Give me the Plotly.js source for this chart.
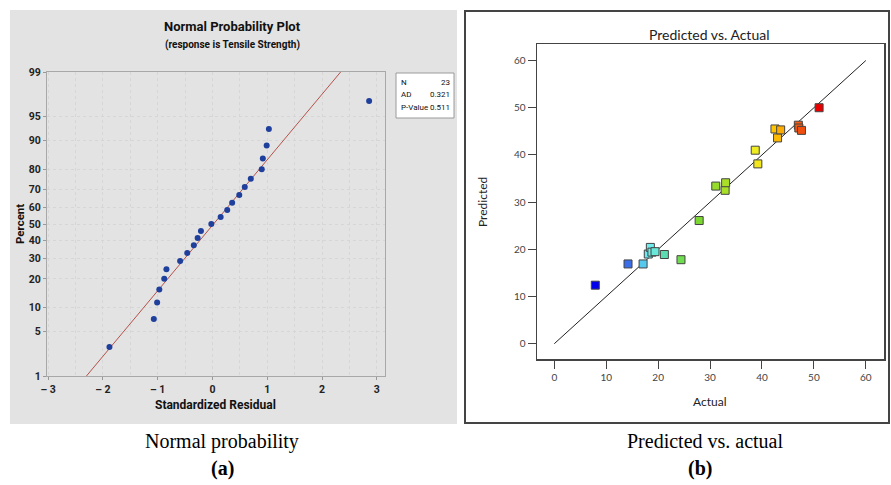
<!DOCTYPE html>
<html>
<head>
<meta charset="utf-8">
<script src="https://cdn.plot.ly/plotly-3.0.1.min.js"></script>
<style>html,body{margin:0;padding:0;background:#fff;}#chart{width:891px;height:485px;}</style>
</head>
<body>
<div id="chart"></div>
<script>
// ---- Data: (a) normal probability plot ----
const residuals = [-1.88,-1.07,-1.01,-0.97,-0.88,-0.84,-0.59,-0.46,-0.34,-0.27,-0.21,-0.02,0.15,0.27,0.36,0.49,0.59,0.70,0.90,0.92,0.99,1.03,2.86];
const percents  = [3.0,7.3,11.5,15.8,20.1,24.4,28.6,32.9,37.2,41.5,45.7,50.0,54.3,58.5,62.8,67.1,71.4,75.6,79.9,84.2,88.5,92.7,97.0];
const fitResidual = [-2.30, 2.34];
const fitPercent  = [1, 99];
const percentTicks = [1,5,10,20,30,40,50,60,70,80,90,95,99];
const residualTicks = [-3,-2,-1,0,1,2,3];
const statLabels = ["N","AD","P-Value"];
const statValues = ["23","0.321","0.511"];

// ---- Data: (b) predicted vs actual ----
const actual    = [7.9,14.2,17.1,18.1,18.5,18.8,19.4,21.2,24.4,27.9,31.1,32.9,33.0,38.7,39.2,42.5,43.0,43.6,47.0,47.1,47.6,51.0];
const predicted = [12.4,16.9,16.9,19.0,20.4,19.4,19.5,18.9,17.8,26.1,33.4,32.5,34.1,41.0,38.1,45.5,43.6,45.3,46.3,45.7,45.2,50.0];
const refLine = [0, 60];
const pvaTicks = [0,10,20,30,40,50,60];

// inverse standard normal CDF (Acklam) - maps percent to probability scale
function probit(p){
  const a=[-3.969683028665376e+01,2.209460984245205e+02,-2.759285104469687e+02,1.383577518672690e+02,-3.066479806614716e+01,2.506628277459239e+00];
  const b=[-5.447609879822406e+01,1.615858368580409e+02,-1.556989798598866e+02,6.680131188771972e+01,-1.328068155288572e+01];
  const c=[-7.784894002430293e-03,-3.223964580411365e-01,-2.400758277161838e+00,-2.549732539343734e+00,4.374664141464968e+00,2.938163982698783e+00];
  const d=[7.784695709041462e-03,3.224671290700398e-01,2.445134137142996e+00,3.754408661907416e+00];
  const pl=0.02425, ph=1-pl; let q,r;
  if(p<pl){q=Math.sqrt(-2*Math.log(p));return (((((c[0]*q+c[1])*q+c[2])*q+c[3])*q+c[4])*q+c[5])/((((d[0]*q+d[1])*q+d[2])*q+d[3])*q+1);}
  if(p<=ph){q=p-0.5;r=q*q;return (((((a[0]*r+a[1])*r+a[2])*r+a[3])*r+a[4])*r+a[5])*q/(((((b[0]*r+b[1])*r+b[2])*r+b[3])*r+b[4])*r+1);}
  q=Math.sqrt(-2*Math.log(1-p));return -(((((c[0]*q+c[1])*q+c[2])*q+c[3])*q+c[4])*q+c[5])/((((d[0]*q+d[1])*q+d[2])*q+d[3])*q+1);
}
const z = v => probit(v/100);

const W=891, H=485;
const px = x => x/W;
const py = y => (H-y)/H;

const boldFont = {family:"Roboto, 'Open Sans', sans-serif", weight:700, color:"#222"};
const lato = "Lato, 'Open Sans', sans-serif";
const serif = "'Liberation Serif', 'Times New Roman', serif";

const traces = [
  {x: fitResidual, y: fitPercent.map(z), type:"scatter", mode:"lines", xaxis:"x", yaxis:"y",
   line:{color:"#b5524a", width:1}, hoverinfo:"skip", showlegend:false},
  {x: residuals, y: percents.map(z), type:"scatter", mode:"markers", xaxis:"x", yaxis:"y",
   marker:{color:"#1f3f9c", size:6, symbol:"circle"}, showlegend:false},
  {x: refLine, y: refLine, type:"scatter", mode:"lines", xaxis:"x2", yaxis:"y2",
   line:{color:"#222", width:1}, hoverinfo:"skip", showlegend:false},
  {x: actual, y: predicted, type:"scatter", mode:"markers", xaxis:"x2", yaxis:"y2",
   marker:{symbol:"square", size:8, color: actual, cmin:8, cmax:51,
     colorscale:[[0,"#0000ee"],[0.145,"#3a6fe8"],[0.21,"#55c8ee"],[0.24,"#70eef0"],[0.307,"#5cdcb0"],
                 [0.381,"#70dc50"],[0.46,"#7ad830"],[0.56,"#9ede28"],[0.71,"#eeee22"],[0.80,"#ffc800"],
                 [0.91,"#f25a10"],[1,"#e80000"]],
     line:{color:"#444", width:1}}, showlegend:false}
];

const shapes = [
  {type:"rect", xref:"paper", yref:"paper", x0:px(10), x1:px(457), y0:py(424), y1:py(10),
   fillcolor:"#e3e3e3", line:{width:0}, layer:"below"},
  {type:"rect", xref:"paper", yref:"paper", x0:px(465), x1:px(889), y0:py(423), y1:py(11),
   fillcolor:"rgba(0,0,0,0)", line:{color:"#444", width:2}, layer:"below"},
  {type:"rect", xref:"paper", yref:"paper", x0:px(396), x1:px(454), y0:py(118), y1:py(73),
   fillcolor:"#fff", line:{color:"#9a9a9a", width:1}, layer:"above"}
];

function ann(text, x, y, font, extra){
  return Object.assign({text, x:px(x), y:py(y), xref:"paper", yref:"paper", showarrow:false,
    xanchor:"center", yanchor:"middle", font}, extra||{});
}

const annotations = [
  ann("Normal Probability Plot", 233, 26, {...boldFont, size:13, color:"#111"}),
  ann("(response is Tensile Strength)", 233, 45, {...boldFont, size:10, color:"#111"}),
  ann("Percent", 20, 224, {...boldFont, size:11.5, color:"#111"}, {textangle:-90}),
  ann("Standardized Residual", 215, 405, {...boldFont, size:12, color:"#111"}),
  ann("Predicted vs. Actual", 709, 35, {family:lato, size:14, color:"#222"}),
  ann("Actual", 709, 401, {family:lato, size:12, color:"#222"}),
  ann("Predicted", 483, 202, {family:lato, size:12, color:"#222"}, {textangle:-90}),
  ann("Normal probability", 222, 441, {family:serif, size:20, color:"#000"}),
  ann("<b>(a)</b>", 222, 468, {family:serif, size:20, color:"#000"}),
  ann("Predicted vs. actual", 705, 441, {family:serif, size:20, color:"#000"}),
  ann("<b>(b)</b>", 700, 468, {family:serif, size:20, color:"#000"})
];
const rowY = [83, 95, 107];
statLabels.forEach((t,i)=>{
  annotations.push(ann(t, 398.5, rowY[i], {family:"Roboto, sans-serif", size:8, color:"#111"}, {xanchor:"left"}));
  annotations.push(ann(statValues[i], 452.5, rowY[i], {family:"Roboto, sans-serif", size:8, color:"#111"}, {xanchor:"right"}));
});

const layout = {
  width:W, height:H, margin:{l:0,r:0,t:0,b:0},
  paper_bgcolor:"#fff", plot_bgcolor:"#fff", showlegend:false,
  xaxis:{domain:[px(47), px(385)], range:[-3.02, 3.15], anchor:"y",
    tickvals: residualTicks, ticktext: residualTicks.map(v=> v<0 ? "\u2013 "+Math.abs(v) : String(v)),
    ticks:"outside", ticklen:3, tickcolor:"#999", tickfont:{...boldFont, size:10.5},
    showgrid:true, gridcolor:"#d6d6d6", griddash:"3px,3px", gridwidth:1,
    minor:{dtick:0.5, tick0:0, showgrid:true, gridcolor:"#d6d6d6", griddash:"3px,3px", ticks:""},
    showline:true, linecolor:"#a8a8a8", linewidth:1, mirror:true, zeroline:false, fixedrange:true},
  yaxis:{domain:[py(376), py(72)], range:[z(1), z(99)], anchor:"x",
    tickvals: percentTicks.map(z), ticktext: percentTicks.map(String),
    ticks:"outside", ticklen:3, tickcolor:"#999", tickfont:{...boldFont, size:10.5},
    showgrid:true, gridcolor:"#d6d6d6", griddash:"3px,3px", gridwidth:1,
    showline:true, linecolor:"#a8a8a8", linewidth:1, mirror:true, zeroline:false, fixedrange:true},
  xaxis2:{domain:[px(537), px(884)], range:[-3.33, 63.5], anchor:"y2",
    tickvals: pvaTicks, ticks:"outside", ticklen:8, tickcolor:"#444", tickwidth:1,
    tickfont:{family:lato, size:10, color:"#444"},
    showgrid:false, zeroline:false, showline:true, linecolor:"#444", linewidth:1.5, mirror:true, fixedrange:true},
  yaxis2:{domain:[py(359), py(44)], range:[-3.24, 63.5], anchor:"x2",
    tickvals: pvaTicks, ticks:"outside", ticklen:8, tickcolor:"#444", tickwidth:1,
    tickfont:{family:lato, size:10, color:"#444"},
    showgrid:false, zeroline:false, showline:true, linecolor:"#444", linewidth:1.5, mirror:true, fixedrange:true},
  shapes, annotations
};

Plotly.newPlot("chart", traces, layout, {displayModeBar:false, staticPlot:true});
</script>
</body>
</html>
